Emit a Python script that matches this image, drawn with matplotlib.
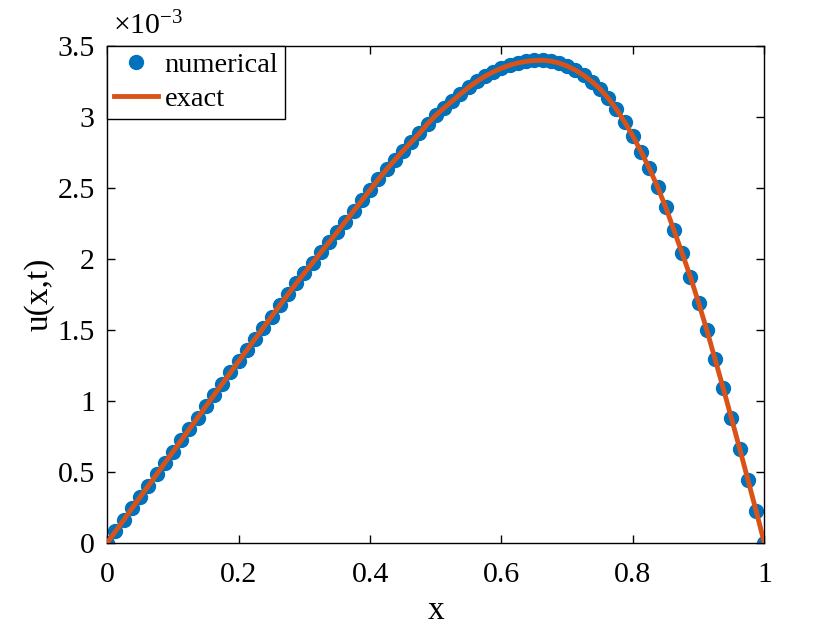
import numpy as np
import matplotlib
matplotlib.use("Agg")
import matplotlib.pyplot as plt
from matplotlib.ticker import FuncFormatter

plt.rcParams['font.family'] = ['Liberation Serif', 'DejaVu Serif']
plt.rcParams['mathtext.fontset'] = 'custom'
plt.rcParams['mathtext.rm'] = 'Liberation Serif'
plt.rcParams['mathtext.it'] = 'Liberation Serif:italic'

# x grid (81 nodes, step 0.0125)
x_nodes = np.linspace(0, 1, 81)

# u values in units of 1e-3
u_e3 = [
    0.000, 0.080, 0.160, 0.241, 0.321, 0.401, 0.481, 0.561, 0.641, 0.721,
    0.801, 0.880, 0.960, 1.040, 1.119, 1.199, 1.278, 1.357, 1.436, 1.514,
    1.593, 1.671, 1.749, 1.826, 1.899, 1.972, 2.044, 2.116, 2.188, 2.262,
    2.336, 2.410, 2.484, 2.558, 2.629, 2.695, 2.759, 2.821, 2.883, 2.950,
    3.010, 3.062, 3.110, 3.160, 3.207, 3.249, 3.285, 3.316, 3.342, 3.363,
    3.379, 3.390, 3.396, 3.398, 3.392, 3.378, 3.357, 3.328, 3.292, 3.248,
    3.195, 3.130, 3.052, 2.962, 2.863, 2.753, 2.636, 2.506, 2.361, 2.200,
    2.038, 1.872, 1.690, 1.497, 1.293, 1.087, 0.876, 0.662, 0.444, 0.224,
    0.000,
]

u_numerical = np.array(u_e3) * 1e-3
u_exact = np.array(u_e3) * 1e-3

y_ticks = [0, 0.5e-3, 1e-3, 1.5e-3, 2e-3, 2.5e-3, 3e-3, 3.5e-3]
x_ticks = [0, 0.2, 0.4, 0.6, 0.8, 1]

blue = '#0072BD'
orange = '#D95319'

fig = plt.figure(figsize=(8.4, 6.29), dpi=100)
ax = fig.add_axes([0.1277, 0.1372, 0.7822, 0.7901])

ax.plot(x_nodes, u_numerical, linestyle='none', marker='o', ms=10,
        color=blue, mec=blue, label='numerical', zorder=2)
ax.plot(x_nodes, u_exact, color=orange, lw=3.5, label='exact', zorder=3)

ax.set_xlim(0, 1)
ax.set_ylim(0, 3.5e-3)
ax.set_xticks(x_ticks)
ax.set_yticks(y_ticks)
ax.xaxis.set_major_formatter(FuncFormatter(lambda v, p: f"{v:g}"))
ax.yaxis.set_major_formatter(FuncFormatter(lambda v, p: f"{v*1e3:g}"))

ax.tick_params(direction='in', length=6, width=1, top=True, right=True,
               labelsize=21.5)
ax.tick_params(axis='x', pad=14)
ax.tick_params(axis='y', pad=9)
for s in ax.spines.values():
    s.set_linewidth(1)

ax.set_xlabel('x', fontsize=24, labelpad=5)
ax.set_ylabel('u(x,t)', fontsize=24, labelpad=2)

ax.text(0.008, 1.01, r'$\times\mathdefault{10^{-3}}$', transform=ax.transAxes,
        fontsize=21.5, ha='left', va='bottom')

leg = ax.legend(loc='upper left', fontsize=20.5, frameon=True, fancybox=False,
                edgecolor='black', borderaxespad=0, handlelength=1.55,
                borderpad=0.22, labelspacing=0.3, handletextpad=0.25,
                markerscale=1.0)
leg.get_frame().set_linewidth(1)
leg.get_frame().set_alpha(1)

fig.savefig('out.png', dpi=100, facecolor='white')
